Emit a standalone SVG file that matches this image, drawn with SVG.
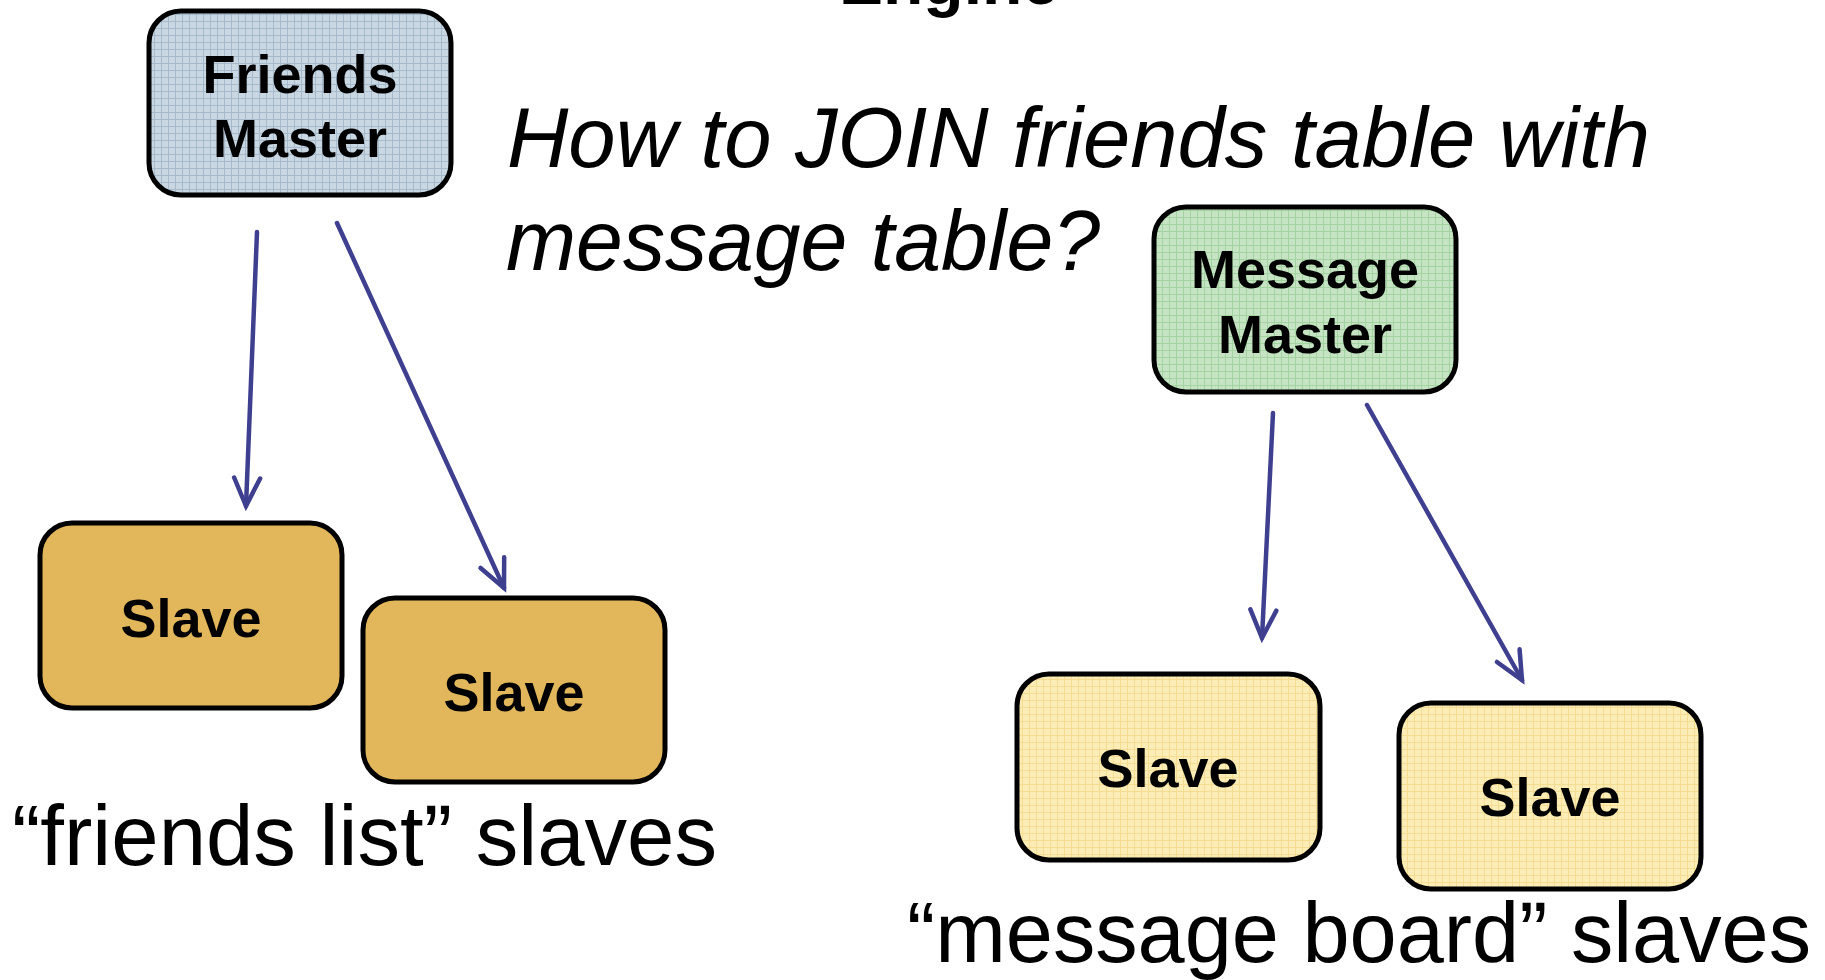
<svg xmlns="http://www.w3.org/2000/svg" width="1825" height="980" viewBox="0 0 1825 980">
<style>
.box{stroke:#000;stroke-width:5}
.lbl{font-family:"Liberation Sans",Arial,sans-serif;font-weight:bold;font-size:54px;fill:#000;text-anchor:middle}
.big{font-family:"Liberation Sans",Arial,sans-serif;fill:#000}
.conn{fill:none;stroke:#3f3f8f;stroke-width:4.5;stroke-linecap:round}
</style>
<defs>
<pattern id="gBlue" width="7" height="7" patternUnits="userSpaceOnUse"><rect width="7" height="7" fill="#c9d7e3"/><path d="M0 0.5H7M0.5 0V7" stroke="#a6bacc" stroke-width="1"/></pattern>
<pattern id="gGreen" width="7" height="7" patternUnits="userSpaceOnUse"><rect width="7" height="7" fill="#c6e4c4"/><path d="M0 0.5H7M0.5 0V7" stroke="#a3d3a0" stroke-width="1"/></pattern>
<pattern id="gYellow" width="7" height="7" patternUnits="userSpaceOnUse"><rect width="7" height="7" fill="#fcedb6"/><path d="M0 0.5H7M0.5 0V7" stroke="#f5dc92" stroke-width="1"/></pattern>
<marker id="ah" markerWidth="40" markerHeight="40" refX="30" refY="15" orient="auto" markerUnits="userSpaceOnUse" overflow="visible"><path d="M2,2 L30,15 L2,28" fill="none" stroke="#3f3f8f" stroke-width="4.5" stroke-linecap="round"/></marker>
</defs>
<rect width="1825" height="980" fill="#fff"/>
<text class="big" x="949" y="4" font-size="66" font-weight="bold" text-anchor="middle">Engine</text>
<g id="title">
<text class="big" x="507" y="167" font-size="86" font-style="italic" textLength="1143" lengthAdjust="spacingAndGlyphs">How to JOIN friends table with</text>
<text class="big" x="506" y="270" font-size="86" font-style="italic" textLength="594" lengthAdjust="spacingAndGlyphs">message table?</text>
</g>
<g id="connectors">
<path class="conn" d="M257,232 L246,506" marker-end="url(#ah)"/>
<path class="conn" d="M337,223 L504,588" marker-end="url(#ah)"/>
<path class="conn" d="M1273,413 L1262,638" marker-end="url(#ah)"/>
<path class="conn" d="M1367,405 L1522,680" marker-end="url(#ah)"/>
</g>
<g id="friends-master">
<rect class="box" x="149" y="11" width="302" height="184" rx="32" fill="url(#gBlue)"/>
<text class="lbl" x="300" y="93">Friends</text>
<text class="lbl" x="300" y="157">Master</text>
</g>
<g id="message-master">
<rect class="box" x="1154" y="207" width="302" height="185" rx="32" fill="url(#gGreen)"/>
<text class="lbl" x="1305" y="288">Message</text>
<text class="lbl" x="1305" y="353">Master</text>
</g>
<g id="friends-slave-1">
<rect class="box" x="40" y="523" width="302" height="185" rx="32" fill="#e2b75c"/>
<text class="lbl" x="191" y="637">Slave</text>
</g>
<g id="friends-slave-2">
<rect class="box" x="363" y="598" width="302" height="184" rx="32" fill="#e2b75c"/>
<text class="lbl" x="514" y="711">Slave</text>
</g>
<g id="message-slave-1">
<rect class="box" x="1017" y="674" width="303" height="186" rx="32" fill="url(#gYellow)"/>
<text class="lbl" x="1168" y="787">Slave</text>
</g>
<g id="message-slave-2">
<rect class="box" x="1399" y="703" width="302" height="186" rx="32" fill="url(#gYellow)"/>
<text class="lbl" x="1550" y="816">Slave</text>
</g>
<g id="captions">
<text class="big" x="12" y="865" font-size="86" textLength="705" lengthAdjust="spacingAndGlyphs">“friends list” slaves</text>
<text class="big" x="907" y="962" font-size="85" textLength="904" lengthAdjust="spacingAndGlyphs">“message board” slaves</text>
</g>
</svg>
